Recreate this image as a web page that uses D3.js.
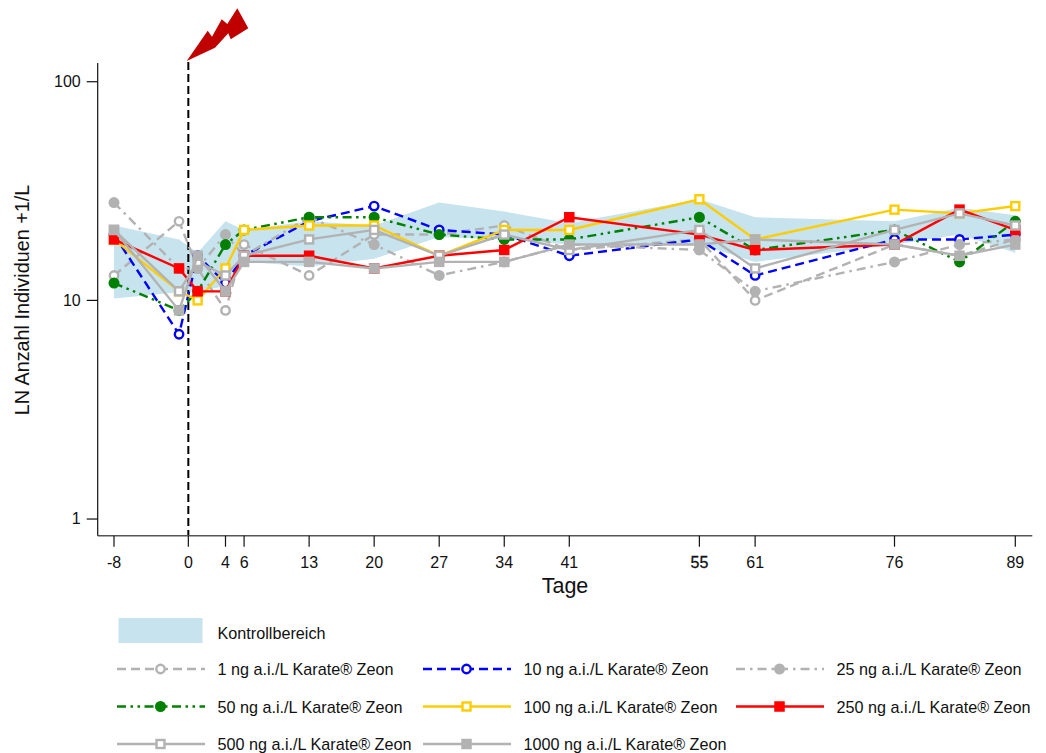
<!DOCTYPE html>
<html>
<head>
<meta charset="utf-8">
<script src="https://cdn.jsdelivr.net/npm/d3@7"></script>
<style>
  html, body { margin: 0; padding: 0; background: #fff; }
  text { font-family: "Liberation Sans", Arial, sans-serif; fill: #111; }
</style>
</head>
<body>
<svg id="chart" width="1046" height="753"></svg>
<script>
// Sampling days and x axis labels
const days = [-8, -1, 1, 4, 6, 13, 20, 27, 34, 41, 55, 61, 76, 83, 89];
const xTicks = [-8, 0, 4, 6, 13, 20, 27, 34, 41, 55, 61, 76, 89];
const yTicks = [1, 10, 100];

// Control range
const controlUpper = [22, 19, 16.5, 23, 21, 23, 22, 28, 25.5, 22.5, 29, 24, 23, 26.5, 24.5];
const controlLower = [10.2, 10.9, 11, 11.6, 15, 14.3, 15.5, 19.5, 19, 18, 18, 15, 18, 20, 16.5];

// Abundance per concentration
const ng1 = [13, 23, 14, 9, 18, 13, 20, 20, 22, 17, 19, 10, 18, 16, 19];
const ng10 = [20, 7, 16, 12, 16, 23, 27, 21, 20, 16, 19, 13, 19, 19, 20];
const ng25 = [28, 14, 14, 20, 16, 24, 18, 13, 15, 18, 17, 11, 15, 18, 19];
const ng50 = [12, 9, 11, 18, 21, 24, 24, 20, 19, 19, 24, 17, 21, 15, 23];
const ng100 = [19, 11, 10, 14, 21, 22, 22, 16, 21, 21, 29, 19, 26, 25, 27];
const ng250 = [19, 14, 11, 11, 16, 16, 14, 16, 17, 24, 20, 17, 18, 26, 21];
const ng500 = [21, 11, 15, 13, 16, 19, 21, 16, 20, 17, 21, 14, 21, 25, 22];
const ng1000 = [21, 9, 16, 11, 15, 15, 14, 15, 15, 18, 18, 19, 18, 16, 18];

const grey = "#b2b2b2";
const dashed = "9 5";
const dotDash = "9 5 2.5 5";
const dotDotDash = "9 4.5 2.5 4.5 2.5 4.5";

const series = [
  { label: "1 ng a.i./L Karate® Zeon", values: ng1, color: grey, dash: dashed, shape: "circle", open: true },
  { label: "10 ng a.i./L Karate® Zeon", values: ng10, color: "#0000ff", dash: dashed, shape: "circle", open: true },
  { label: "25 ng a.i./L Karate® Zeon", values: ng25, color: grey, dash: dotDash, shape: "circle", open: false },
  { label: "50 ng a.i./L Karate® Zeon", values: ng50, color: "#008000", dash: dotDotDash, shape: "circle", open: false },
  { label: "100 ng a.i./L Karate® Zeon", values: ng100, color: "#ffcc00", dash: null, shape: "square", open: true },
  { label: "250 ng a.i./L Karate® Zeon", values: ng250, color: "#ff0000", dash: null, shape: "square", open: false },
  { label: "500 ng a.i./L Karate® Zeon", values: ng500, color: grey, dash: null, shape: "square", open: true },
  { label: "1000 ng a.i./L Karate® Zeon", values: ng1000, color: grey, dash: null, shape: "square", open: false }
];

const svg = d3.select("#chart");

const axisX = 97.7, axisY = 535.7;
const xScale = d3.scaleLinear().domain([-9.754, 90.83]).range([axisX, 1032.3]);
const yScale = d3.scaleLog().domain([0.839, 121.8]).range([axisY, 63]);

// Control band
const band = d3.area()
  .x((d, i) => xScale(days[i]))
  .y0(d => yScale(d[0]))
  .y1(d => yScale(d[1]));

svg.append("path")
  .attr("d", band(d3.zip(controlLower, controlUpper)))
  .attr("fill", "#c6e3ee");

// Application marker
svg.append("line")
  .attr("x1", xScale(0)).attr("x2", xScale(0))
  .attr("y1", 62).attr("y2", axisY)
  .attr("stroke", "#000")
  .attr("stroke-width", 2)
  .attr("stroke-dasharray", "8 4");

svg.append("path")
  .attr("d", "M186.7,61L207.7,30.7L212,36.7L221.7,19.3L227.3,24L237.3,8.3L248.3,28.3L230.7,39.3L228.3,33.3L215,47.7Z")
  .attr("fill", "#c00000");

// Draws one marker, also used by the legend
function drawMarker(g, s, x, y) {
  const fill = s.open ? "#fff" : s.color;
  if (s.shape === "circle") {
    g.append("circle")
      .attr("cx", x).attr("cy", y)
      .attr("r", s.open ? 4.2 : 5.5)
      .attr("fill", fill)
      .attr("stroke", s.color)
      .attr("stroke-width", s.open ? 2.4 : 0);
  } else {
    const size = s.open ? 8 : 10.5;
    g.append("rect")
      .attr("x", x - size / 2).attr("y", y - size / 2)
      .attr("width", size).attr("height", size)
      .attr("fill", fill)
      .attr("stroke", s.color)
      .attr("stroke-width", s.open ? 2.4 : 0);
  }
}

const line = d3.line()
  .x((d, i) => xScale(days[i]))
  .y(d => yScale(d));

series.forEach(s => {
  const g = svg.append("g");
  g.append("path")
    .attr("d", line(s.values))
    .attr("fill", "none")
    .attr("stroke", s.color)
    .attr("stroke-width", 2.4)
    .attr("stroke-dasharray", s.dash);
  s.values.forEach((v, i) => drawMarker(g, s, xScale(days[i]), yScale(v)));
});

// Axes
const xAxis = svg.append("g")
  .attr("transform", "translate(0," + axisY + ")")
  .call(d3.axisBottom(xScale).tickValues(xTicks).tickFormat(d => String(d)).tickSize(11).tickSizeOuter(0).offset(0));

const yAxis = svg.append("g")
  .attr("transform", "translate(" + axisX + ",0)")
  .call(d3.axisLeft(yScale).tickValues(yTicks).tickFormat(d => String(d)).tickSize(11).tickSizeOuter(0).offset(0));

[xAxis, yAxis].forEach(a => {
  a.selectAll("line").attr("stroke", "#111").attr("stroke-width", 1.2);
  a.selectAll("text").style("font-size", "16px").style("font-family", "Liberation Sans");
});
xAxis.select(".domain").attr("stroke", "#555").attr("stroke-width", 1.6);
yAxis.select(".domain").attr("stroke", "#111").attr("stroke-width", 1.2);
xAxis.selectAll("text").attr("y", 32).attr("dy", 0);
yAxis.selectAll("text").attr("x", -17);
xAxis.selectAll(".tick").filter(d => d === 55).select("text").attr("stroke", "#111").attr("stroke-width", 0.3);

svg.append("text")
  .attr("x", 565).attr("y", 593)
  .attr("text-anchor", "middle")
  .style("font-size", "21.5px")
  .text("Tage");

svg.append("text")
  .attr("transform", "translate(29,300) rotate(-90)")
  .attr("text-anchor", "middle")
  .style("font-size", "19.8px")
  .text("LN Anzahl Individuen +1/L");

// Legend
const legendCols = [117, 423, 736];
const legendRows = [669, 706.5, 744];

const legend = svg.append("g");
legend.append("rect")
  .attr("x", 118.5).attr("y", 618)
  .attr("width", 84).attr("height", 25)
  .attr("fill", "#c6e3ee");
legend.append("text")
  .attr("x", 217.5).attr("y", 638.5)
  .style("font-size", "16.2px")
  .text("Kontrollbereich");

series.forEach((s, i) => {
  const lx = legendCols[i % 3];
  const ly = legendRows[Math.floor(i / 3)];
  const g = legend.append("g");
  g.append("line")
    .attr("x1", lx).attr("x2", lx + 88)
    .attr("y1", ly).attr("y2", ly)
    .attr("stroke", s.color)
    .attr("stroke-width", 2.4)
    .attr("stroke-dasharray", s.dash);
  drawMarker(g, s, lx + 43.5, ly);
  g.append("text")
    .attr("x", lx + 100.5).attr("y", ly + 6)
    .style("font-size", "16.2px")
    .text(s.label);
});
</script>
</body>
</html>
